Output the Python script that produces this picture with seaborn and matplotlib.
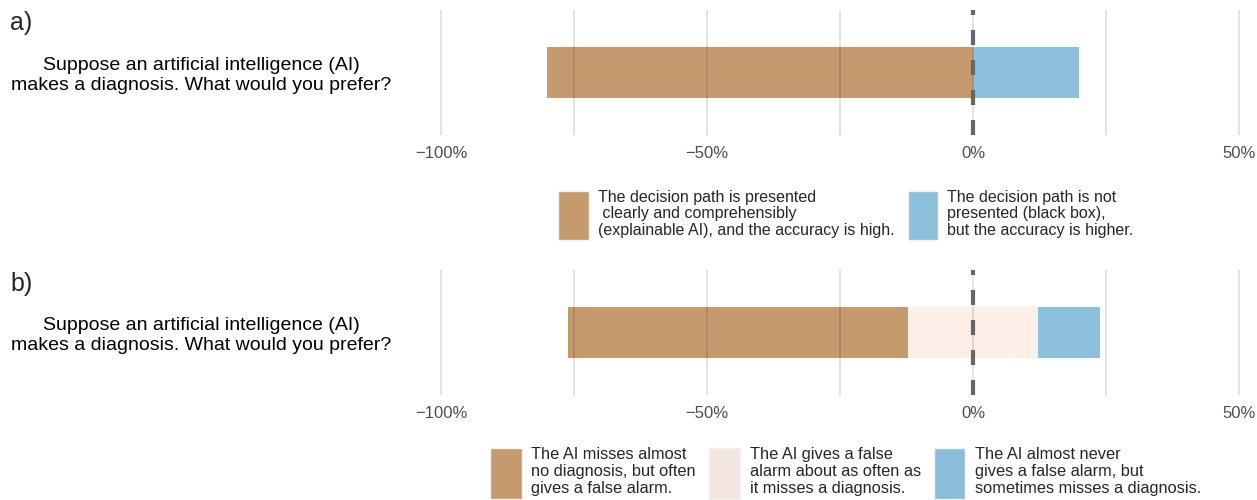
import matplotlib
matplotlib.use("Agg")
import matplotlib.pyplot as plt
from matplotlib.patches import Patch
from matplotlib.ticker import FuncFormatter, FixedLocator
import seaborn as sns

# question shown on both panels
question = "Suppose an artificial intelligence (AI)\nmakes a diagnosis. What would you prefer?"

# panel a) two answer options (percent of respondents)
a_labels = [
    "The decision path is presented\n clearly and comprehensibly\n(explainable AI), and the accuracy is high.",
    "The decision path is not\npresented (black box),\nbut the accuracy is higher.",
]
a_values = [80.0, 20.0]

# panel b) three answer options (percent of respondents)
b_labels = [
    "The AI misses almost\nno diagnosis, but often\ngives a false alarm.",
    "The AI gives a false\nalarm about as often as\nit misses a diagnosis.",
    "The AI almost never\ngives a false alarm, but\nsometimes misses a diagnosis.",
]
b_values = [63.9, 24.6, 11.5]

major_ticks = [-100, -50, 0, 50]
minor_ticks = [-75, -25, 25]

brown = "#C69A6F"
neutral = "#FDEFE8"
blue = "#8DC0DB"
legend_cols_a = [brown, blue]
legend_cols_b = [brown, "#F3E5E0", "#8BBDD8"]

sns.set_style("white")
plt.rcParams['font.family'] = ['Liberation Sans', 'DejaVu Sans']

fig = plt.figure(figsize=(12.57, 5.0), dpi=100)
ax_a = fig.add_axes([0.3466, 0.73, 0.6433, 0.25])
ax_b = fig.add_axes([0.3466, 0.21, 0.6433, 0.25])


def draw_bar(ax, values, colors):
    # diverging bar: first option to the left, last to the right,
    # a middle option (if any) is centred on 0
    if len(values) == 2:
        segs = [(-values[0], colors[0]), (values[1], colors[1])]
    else:
        half = values[1] / 2
        segs = [
            (values[2] + half, colors[2]),
            (half, colors[1]),
            (-(values[0] + half), colors[0]),
            (-half, colors[1]),
        ]
    for v, c in segs:
        sns.barplot(x=[v], y=[question], color=c, width=0.5, orient="h",
                    saturation=1, ax=ax, zorder=2, linewidth=0)


def style_axis(ax):
    ax.set_xlim(-101, 51)
    ax.set_ylim(0.61, -0.61)
    ax.xaxis.set_major_locator(FixedLocator(major_ticks))
    ax.xaxis.set_minor_locator(FixedLocator(minor_ticks))
    ax.xaxis.set_major_formatter(FuncFormatter(lambda v, p: f"{v:.0f}%".replace("-", "\u2212")))
    ax.grid(False)
    for t in major_ticks + minor_ticks:
        ax.axvline(t, color="#000000", alpha=0.15, lw=1.1, zorder=3)
    ax.axvline(0, color="#666666", lw=3, dashes=(3.6, 3.6), zorder=4)
    for s in ax.spines.values():
        s.set_visible(False)
    ax.tick_params(axis="x", length=0, pad=8, labelsize=12, labelcolor="#4D4D4D")
    ax.tick_params(axis="y", length=0, pad=32, labelsize=14, labelcolor="black")
    for t in ax.get_yticklabels():
        t.set_multialignment("center")
        t.set_linespacing(1.23)
    ax.set_xlabel("")
    ax.set_ylabel("")


draw_bar(ax_a, a_values, [brown, blue])
draw_bar(ax_b, b_values, [brown, neutral, blue])
style_axis(ax_a)
style_axis(ax_b)

fig.text(0.008, 1 - 23 / 500, "a)", fontsize=18, va="center")
fig.text(0.008, 1 - 284 / 500, "b)", fontsize=18, va="center")


def add_legend(labels, colors, y, size):
    handles = [Patch(facecolor=c, edgecolor="#F2F2F2", linewidth=1) for c in colors]
    leg = fig.legend(handles, labels, loc="center", bbox_to_anchor=(0.673, y),
                     ncol=len(labels), frameon=False, fontsize=size,
                     handlelength=1.9, handleheight=4.4, handletextpad=0.6,
                     columnspacing=0.8, borderpad=0)
    for t in leg.get_texts():
        t.set_linespacing(1.15)


add_legend(a_labels, legend_cols_a, 1 - 215 / 500, 11.5)
add_legend(b_labels, legend_cols_b, 1 - 473 / 500, 11.8)

plt.savefig("out.png", dpi=100)
